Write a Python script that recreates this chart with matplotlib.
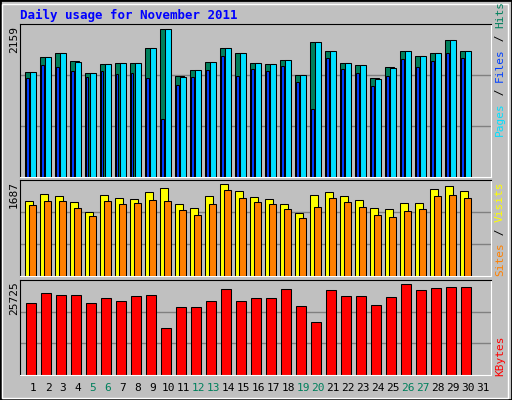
import matplotlib
matplotlib.use("Agg")
import matplotlib.pyplot as plt
from matplotlib.patches import Rectangle

days = list(range(1, 32))
weekend = [5, 6, 12, 13, 19, 20, 26, 27]
hits = [1529,1749,1807,1690,1514,1646,1661,1661,1881,2159,1470,1558,1676,1881,1807,
        1661,1646,1705,1485,1969,1837,1661,1632,1441,1602,1837,1763,1807,1998,1837]
files = [1529,1749,1807,1676,1514,1646,1661,1661,1881,2159,1456,1558,1676,1881,1807,
         1661,1646,1705,1485,1969,1837,1661,1632,1436,1588,1837,1763,1807,1998,1837]
pages = [1441,1632,1602,1544,1456,1544,1500,1514,1441,855,1338,1456,1558,1763,1470,
         1573,1544,1617,1382,1001,1734,1573,1514,1324,1470,1720,1602,1690,1807,1734]
visits = [1375,1504,1467,1357,1174,1485,1430,1412,1540,1614,1320,1247,1467,1687,1559,
          1449,1412,1320,1155,1485,1540,1467,1394,1247,1229,1339,1339,1595,1650,1559]
sites = [1302,1375,1375,1247,1100,1375,1320,1339,1394,1375,1210,1119,1320,1577,1430,
         1357,1320,1229,1063,1265,1430,1357,1265,1119,1082,1192,1229,1467,1485,1430]
kbytes = [20354,23181,22615,22615,20354,21767,20919,22333,22615,13286,19223,19223,20919,
          24311,20919,21767,21767,24311,19506,14983,24029,22333,22333,19788,22050,25725,
          24029,24594,24877,24877]

W, H = 512, 400
fig = plt.figure(figsize=(5.12, 4.0), dpi=100)
fig.patch.set_facecolor("#C0C0C0")
mono = "DejaVu Sans Mono"

fig.add_artist(Rectangle((0, 0), 1, 1, transform=fig.transFigure, fill=False, ec="black", lw=2))
fig.add_artist(Rectangle((2/W, 2/H), 1-6/W, 1-6/H, transform=fig.transFigure, fill=False, ec="white", lw=1))

def ax_at(top, bottom):
    a = fig.add_axes([20/W, 1-bottom/H, (491-20)/W, (bottom-top)/H])
    a.set_facecolor("#C0C0C0")
    a.set_xlim(1-13/15, 1+(491-33)/15)
    for s in a.spines.values():
        s.set_color("black")
    a.spines["bottom"].set_color("white")
    a.spines["right"].set_color("white")
    a.set_xticks([]); a.set_yticks([])
    return a

def grid(a, top):
    for f in (1/3, 2/3):
        a.axhline(top*f, color="#808080", lw=1, zorder=0)

x = days[:30]
bk = dict(edgecolor="black", linewidth=0.75, align="edge")

a1 = ax_at(24, 177)
top1 = max(hits) * 153 / 147.7
a1.set_ylim(0, top1); grid(a1, top1)
a1.bar([d-0.53 for d in x], hits, width=0.6, color="#00805C", zorder=2, **bk)
a1.bar([d-0.44 for d in x], pages, width=0.14, color="#0040FF", zorder=3, **bk)
a1.bar([d-0.2 for d in x], files, width=0.42, color="#00E0FF", zorder=4, **bk)

a2 = ax_at(180, 276)
top2 = max(visits) * 96 / 92
a2.set_ylim(0, top2); grid(a2, top2)
a2.bar([d-0.53 for d in x], visits, width=0.5, color="#FFFF00", zorder=2, **bk)
a2.bar([d-0.27 for d in x], sites, width=0.48, color="#FF8000", zorder=3, **bk)

a3 = ax_at(280, 375)
top3 = max(kbytes) * 95 / 91
a3.set_ylim(0, top3); grid(a3, top3)
a3.bar([d-0.47 for d in x], kbytes, width=0.68, color="#FF0000", zorder=2, **bk)

for d in days:
    a3.text(d, -0.08, str(d), transform=a3.get_xaxis_transform(), ha="center", va="top",
            fontsize=8, family=mono, color="#00805C" if d in weekend else "black")

fig.text(20/W, 1-15/H, "Daily usage for November 2011", fontsize=9, family=mono,
         weight="bold", color="#0000FF", ha="left", va="center")

def lefttxt(y, s):
    fig.text(14/W, 1-y/H, s, rotation=90, fontsize=8, family=mono, ha="center", va="top")
lefttxt(26, str(max(hits)))
lefttxt(181, str(max(visits)))
lefttxt(281, str(max(kbytes)))

def righttxt(ybottom, parts):
    fig.canvas.draw()
    r = fig.canvas.get_renderer()
    y = ybottom
    for s, c in parts:
        t = fig.text(500/W, 1-y/H, s, rotation=90, fontsize=8, family=mono, color=c,
                     ha="center", va="bottom")
        bb = t.get_window_extent(r)
        y -= bb.height
righttxt(136, [("Pages", "#00E0FF"), (" / ", "black"), ("Files", "#0040FF"), (" / ", "black"), ("Hits", "#00805C")])
righttxt(276, [("Sites", "#FF8000"), (" / ", "black"), ("Visits", "#FFFF00")])
righttxt(376, [("KBytes", "#FF0000")])

fig.savefig("out.png", dpi=100, facecolor=fig.get_facecolor())
